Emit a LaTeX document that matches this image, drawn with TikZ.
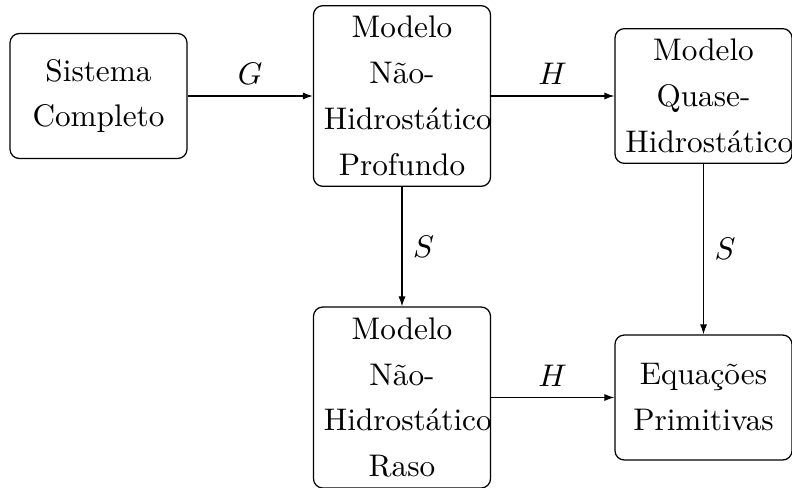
\documentclass[tikz,border=0pt]{standalone}
\usepackage{fontspec}
\usetikzlibrary{arrows.meta}
\begin{document}
\begin{tikzpicture}[x=0.32pt,y=-0.32pt,
  blk/.style={draw, rounded corners=3pt, text width=5em, align=center,
    minimum height=4em, inner sep=3.333pt, font=\fontsize{10}{14.7}\selectfont},
  conn/.style={-{Latex[length=3.2pt,width=2.3pt]}, line width=0.4pt},
  lbl/.style={font=\fontsize{10}{12}\selectfont}]
\useasboundingbox (0,0) rectangle (792,488);
\node[blk] (sc) at (98.5,96) {Sistema\\Completo};
\node[blk] (np) at (402,96) {Modelo\\Não-\\Hidrostático\\Profundo};
\node[blk] (qh) at (703.5,96) {Modelo\\Quase-\\Hidrostático};
\node[blk] (nr) at (402,397.5) {Modelo\\Não-\\Hidrostático\\Raso};
\node[blk] (ep) at (703.5,397.5) {Equações\\Primitivas};
\draw[conn] (sc) -- node[lbl, above] {$G$} (np);
\draw[conn] (np) -- node[lbl, above] {$H$} (qh);
\draw[conn] (np) -- node[lbl, right] {$S$} (nr);
\draw[conn] (qh) -- node[lbl, right] {$S$} (ep);
\draw[conn] (nr) -- node[lbl, above] {$H$} (ep);
\end{tikzpicture}
\end{document}
